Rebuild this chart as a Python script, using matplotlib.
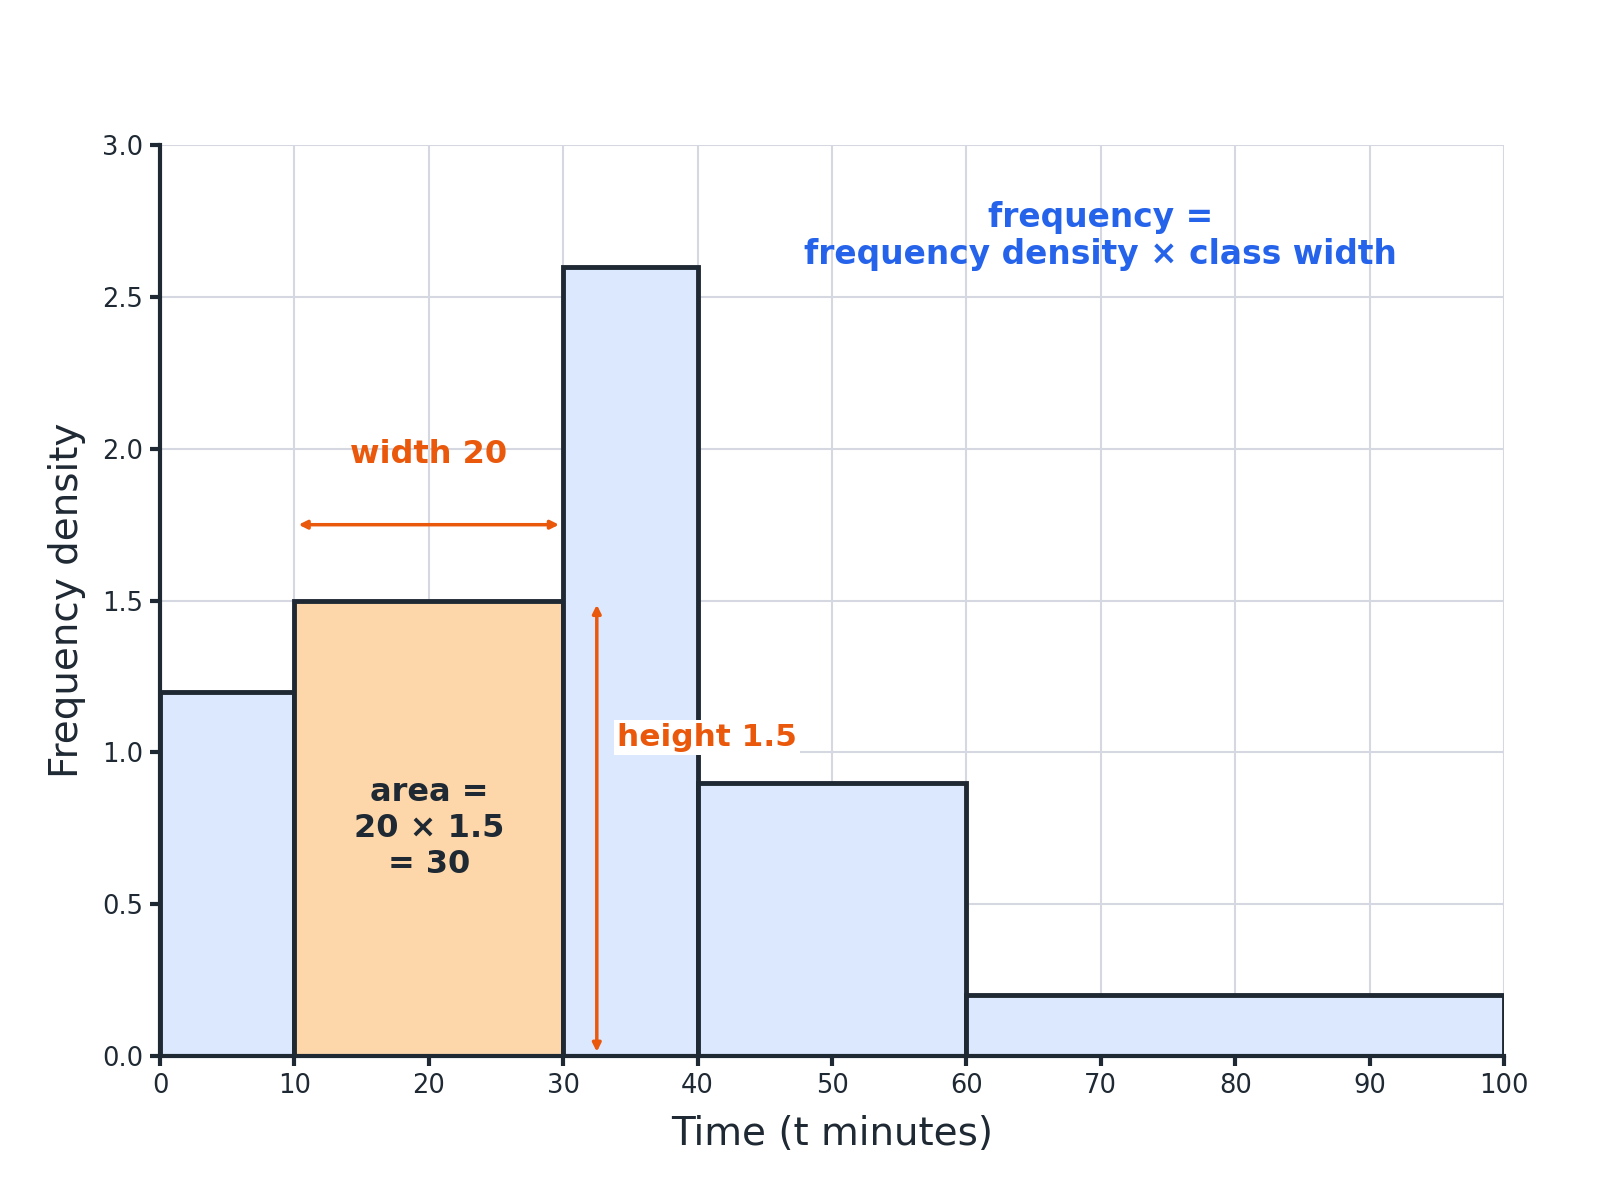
import matplotlib
matplotlib.use("Agg")
import matplotlib.pyplot as plt

# class boundaries and frequency densities
bin_edges = [0, 10, 30, 40, 60, 100]
freq_density = [1.2, 1.5, 2.6, 0.9, 0.2]
highlight_bin = 1

dark = "#1f2933"
blue_fill = "#dbe8fe"
orange_fill = "#fdd7aa"
orange = "#ea580c"
blue = "#2563eb"
grid_col = "#d5d8e0"

plt.rcParams["font.family"] = "DejaVu Sans"

fig = plt.figure(figsize=(16, 12), dpi=100)
ax = fig.add_axes([0.1, 0.12, 0.84, 0.759])

lefts = bin_edges[:-1]
widths = [b - a for a, b in zip(bin_edges[:-1], bin_edges[1:])]
colors = [orange_fill if i == highlight_bin else blue_fill for i in range(len(lefts))]
ax.bar(lefts, freq_density, width=widths, align="edge", color=colors,
       edgecolor=dark, linewidth=3.5, zorder=2)

ax.set_xlim(0, 100)
ax.set_ylim(0, 3.0)
ax.set_xticks(range(0, 101, 10))
ax.set_yticks([0, 0.5, 1.0, 1.5, 2.0, 2.5, 3.0])
ax.set_yticklabels(["0.0", "0.5", "1.0", "1.5", "2.0", "2.5", "3.0"])
ax.grid(True, color=grid_col, linewidth=1.5, zorder=0)
ax.set_axisbelow(True)

for side in ["top", "right"]:
    ax.spines[side].set_visible(False)
for side in ["left", "bottom"]:
    ax.spines[side].set_color(dark)
    ax.spines[side].set_linewidth(3)
ax.tick_params(colors=dark, labelsize=18.5, length=7, width=3, direction="out", pad=5)

ax.set_xlabel("Time (t minutes)", fontsize=28, color=dark, labelpad=12)
ax.set_ylabel("Frequency density", fontsize=28, color=dark, labelpad=12)

# width arrow
a0, a1 = bin_edges[highlight_bin], bin_edges[highlight_bin + 1]
h = freq_density[highlight_bin]
ax.annotate("", xy=(a1, 1.75), xytext=(a0, 1.75),
            arrowprops=dict(arrowstyle="<|-|>", color=orange, lw=2.5,
                            mutation_scale=12, shrinkA=3, shrinkB=3), zorder=5)
ax.text((a0 + a1) / 2, 1.98, f"width {a1 - a0}", ha="center", va="center",
        fontsize=23, fontweight="bold", color=orange, zorder=5)

# height arrow
ax.annotate("", xy=(32.5, h), xytext=(32.5, 0),
            arrowprops=dict(arrowstyle="<|-|>", color=orange, lw=2.5,
                            mutation_scale=12, shrinkA=3, shrinkB=3), zorder=5)
ax.text(34.0, 1.05, f"height {h}", ha="left", va="center",
        fontsize=22.5, fontweight="bold", color=orange, zorder=6,
        bbox=dict(facecolor="white", edgecolor="none", pad=2))

ax.text((a0 + a1) / 2, 0.75, f"area =\n{a1 - a0} × {h}\n= {int((a1 - a0) * h)}",
        ha="center", va="center", fontsize=23, fontweight="bold", color=dark,
        linespacing=1.2, zorder=5)

ax.text(70, 2.7, "frequency =\nfrequency density × class width", ha="center",
        va="center", fontsize=23.7, fontweight="bold", color=blue,
        linespacing=1.15, zorder=5)

fig.savefig("out.png", dpi=100, facecolor="white")
